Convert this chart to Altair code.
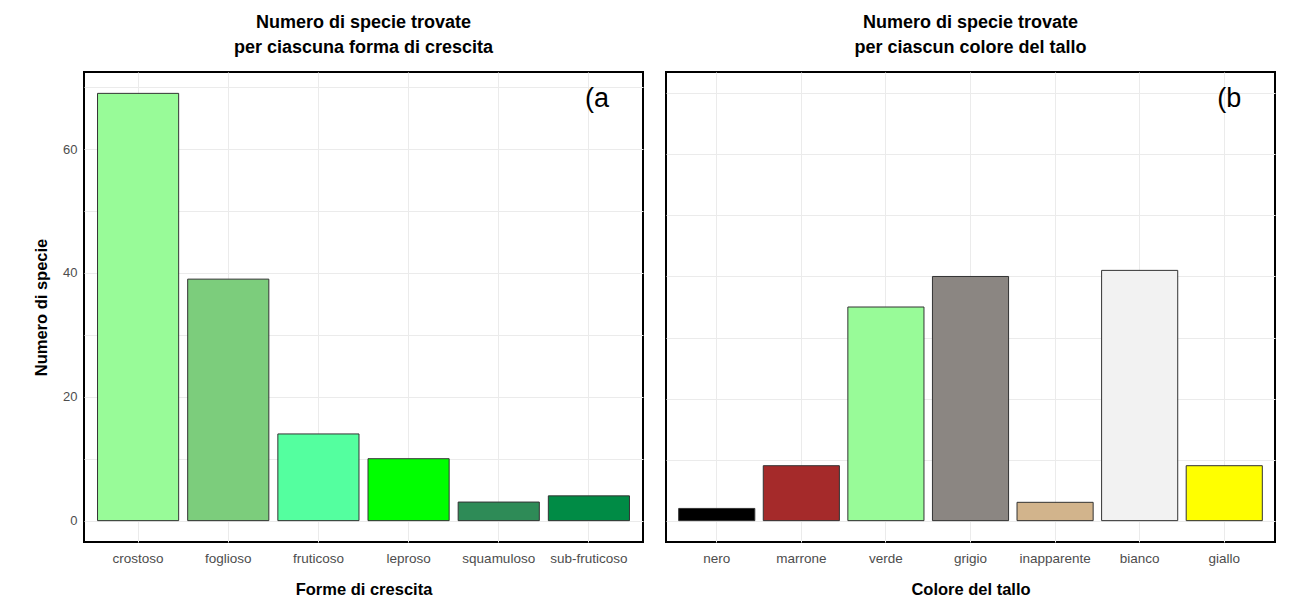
import altair as alt
import pandas as pd

# Panel (a): growth forms
forme = ["crostoso", "foglioso", "fruticoso", "leproso", "squamuloso", "sub-fruticoso"]
n_forme = [69, 39, 14, 10, 3, 4]
col_forme = ["#98FB98", "#7CCD7C", "#54FF9F", "#00FF00", "#2E8B57", "#008B45"]

# Panel (b): thallus colour
colori = ["nero", "marrone", "verde", "grigio", "inapparente", "bianco", "giallo"]
n_colori = [2, 9, 35, 40, 3, 41, 9]
col_colori = ["#000000", "#A52A2A", "#98FB98", "#8B8682", "#D2B48C", "#F2F2F2", "#FFFF00"]

grid_vals = [0, 10, 20, 30, 40, 50, 60, 70]

FONT = "Liberation Sans"
LABEL_COL = "#4D4D4D"
GRID_COL = "#EBEBEB"

df_a = pd.DataFrame({"forma": forme, "n": n_forme, "col": col_forme})
df_b = pd.DataFrame({"colore": colori, "n": n_colori, "col": col_colori})

VIEW = alt.ViewBackground(stroke="#000000", strokeWidth=2, fill="white")


def xaxis(title):
    return alt.Axis(
        title=title, grid=True, gridColor=GRID_COL, gridWidth=1, bandPosition=0.5,
        ticks=False, domain=False, labelAngle=0, labelFont=FONT, labelFontSize=13.5,
        labelColor=LABEL_COL, labelPadding=9, titleFont=FONT, titleFontSize=16.5,
        titleFontWeight="bold", titleColor="#000000", titlePadding=17,
    )


def titlep(lines):
    return alt.TitleParams(
        text=lines, font=FONT, fontSize=18, fontWeight="bold", color="#000000",
        anchor="middle", lineHeight=25, offset=15,
    )


bars_a = alt.Chart(df_a).mark_bar(stroke="#333333", strokeWidth=1).encode(
    x=alt.X("forma:N", sort=forme,
            scale=alt.Scale(paddingInner=0.1, paddingOuter=0.15),
            axis=xaxis("Forme di crescita")),
    y=alt.Y("n:Q",
            scale=alt.Scale(domain=[-3.45, 72.45], nice=False, zero=False),
            axis=alt.Axis(
                title="Numero di specie", values=grid_vals,
                labelExpr="datum.value % 20 == 0 ? datum.label : ''",
                grid=True, gridColor=GRID_COL, ticks=False, domain=False,
                labelFont=FONT, labelFontSize=13, labelColor=LABEL_COL, labelPadding=7,
                titleFont=FONT, titleFontSize=16.5, titleFontWeight="bold",
                titleColor="#000000", titlePadding=13,
            )),
    y2=alt.datum(0),
    fill=alt.Fill("col:N", scale=None),
)

tag_a = alt.Chart(pd.DataFrame({"t": ["(a"]})).mark_text(
    font=FONT, fontSize=27, align="left", baseline="top", dx=-4, color="#000000"
).encode(x=alt.datum("sub-fruticoso"), y=alt.datum(70.2), text="t:N")

panel_a = alt.layer(bars_a, tag_a).properties(
    width=559, height=470, view=VIEW,
    title=titlep(["Numero di specie trovate", "per ciascuna forma di crescita"])
)

bars_b = alt.Chart(df_b).mark_bar(stroke="#333333", strokeWidth=1).encode(
    x=alt.X("colore:N", sort=colori,
            scale=alt.Scale(paddingInner=0.1, paddingOuter=0.15),
            axis=xaxis("Colore del tallo")),
    y=alt.Y("n:Q",
            scale=alt.Scale(domain=[-3.5, 73.5], nice=False, zero=False),
            axis=alt.Axis(
                title=None, values=grid_vals, labels=False,
                grid=True, gridColor=GRID_COL, ticks=False, domain=False,
            )),
    y2=alt.datum(0),
    fill=alt.Fill("col:N", scale=None),
)

tag_b = alt.Chart(pd.DataFrame({"t": ["(b"]})).mark_text(
    font=FONT, fontSize=27, align="left", baseline="top", dx=-7, color="#000000"
).encode(x=alt.datum("giallo"), y=alt.datum(71.2), text="t:N")

panel_b = alt.layer(bars_b, tag_b).properties(
    width=609, height=470, view=VIEW,
    title=titlep(["Numero di specie trovate", "per ciascun colore del tallo"])
)

chart = alt.hconcat(panel_a, panel_b, spacing=21).properties(
    padding={"left": 24, "top": 5, "right": 0, "bottom": 0}
).configure(background="white")

chart.save("out.html", embed_options={"renderer": "svg", "actions": False})
